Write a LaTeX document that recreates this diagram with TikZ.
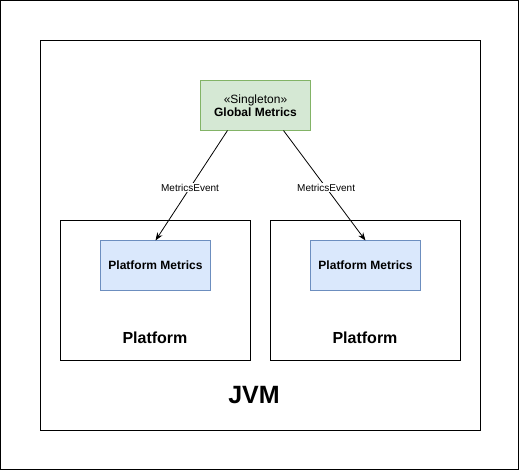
\documentclass[tikz,border=0pt]{standalone}
\usepackage{fontspec}
\setmainfont{Liberation Sans}
\usetikzlibrary{arrows.meta,calc}
\definecolor{gfill}{HTML}{D5E8D4}
\definecolor{gdraw}{HTML}{82B366}
\definecolor{bfill}{HTML}{DAE8FC}
\definecolor{bdraw}{HTML}{6C8EBF}
\tikzset{
  box/.style={draw=black, line width=1pt, anchor=north west, inner sep=0pt, outer sep=0pt},
  greenbox/.style={draw=gdraw, fill=gfill, line width=1pt, anchor=north west, inner sep=0pt, outer sep=0pt, align=center},
  bluebox/.style={draw=bdraw, fill=bfill, line width=1pt, anchor=north west, inner sep=0pt, outer sep=0pt, align=center, font=\fontsize{12}{14}\selectfont\bfseries},
  conn/.style={-{Stealth[length=8pt,width=6pt]}, line width=0.8pt},
  lbl/.style={fill=white, inner sep=1pt, font=\fontsize{10}{12}\selectfont},
  ptitle/.style={font=\fontsize{16}{18}\selectfont\bfseries}
}
\begin{document}
\begin{tikzpicture}[x=1pt,y=-1pt]
\useasboundingbox (0,0) rectangle (520,471);
\node[box, minimum width=518pt, minimum height=469pt] (outer) at (0.7,0.7) {};
\node[box, minimum width=440pt, minimum height=390pt] (jvm) at (40.5,40.5) {};
\node[ptitle, font=\fontsize{25}{28}\selectfont\bfseries] (jvmlbl) at (254,395) {JVM};
\node[greenbox, minimum width=110pt, minimum height=50pt] (gm) at (200.5,80.5) {\fontsize{12}{15}\selectfont «Singleton»\\[1pt]\fontsize{12}{15}\selectfont\bfseries Global Metrics};
\node[box, minimum width=190pt, minimum height=140pt] (p1) at (60.5,220.5) {};
\node[box, minimum width=190pt, minimum height=140pt] (p2) at (270.5,220.5) {};
\node[bluebox, minimum width=110pt, minimum height=50pt] (pm1) at (100.5,240.5) {Platform Metrics};
\node[bluebox, minimum width=110pt, minimum height=50pt] (pm2) at (310.5,240.5) {Platform Metrics};
\node[ptitle] (p1lbl) at (155,338) {Platform};
\node[ptitle] (p2lbl) at (365,338) {Platform};
\draw[conn] ([xshift=27pt]gm.south west) -- node[lbl, pos=0.52] {MetricsEvent} ([xshift=55pt]pm1.north west);
\draw[conn] ([xshift=83pt]gm.south west) -- node[lbl, pos=0.52] {MetricsEvent} ([xshift=55pt]pm2.north west);
\end{tikzpicture}
\end{document}
